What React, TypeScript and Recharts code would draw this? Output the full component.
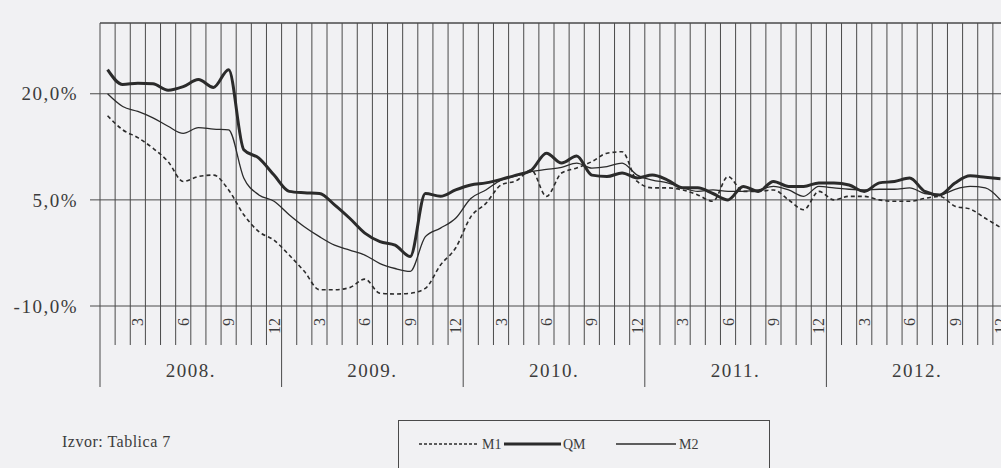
import { LineChart, Line, XAxis, YAxis, CartesianGrid, ReferenceLine } from "recharts";

// monthly growth rates, Jan 2008 – Dec 2012
const YEARS = ["2008.", "2009.", "2010.", "2011.", "2012."];
const MONTH_LABELS = ["", "", "3", "", "", "6", "", "", "9", "", "", "12"];

const QM = [
  23.4, 21.3, 21.5, 21.4, 20.5, 21.0, 22.0, 20.9, 23.4, 12.1, 10.9, 8.5,
  6.2, 6.0, 5.9, 4.3, 2.4, 0.3, -0.9, -1.4, -3.0, 5.9, 5.5, 6.4,
  7.1, 7.4, 7.9, 8.5, 9.2, 11.6, 10.2, 11.2, 8.5, 8.3, 8.8, 8.1,
  8.5, 7.8, 6.7, 6.7, 5.9, 5.0, 6.9, 6.2, 7.6, 6.9, 6.9, 7.4,
  7.4, 7.1, 6.2, 7.4, 7.6, 8.1, 6.2, 5.7, 7.4, 8.4, 8.2, 8.0,
];
const M2 = [
  20.0, 18.2, 17.5, 16.6, 15.4, 14.4, 15.2, 15.0, 14.9, 8.1, 5.7, 4.8,
  2.9, 1.2, -0.2, -1.4, -2.1, -2.8, -4.0, -4.7, -5.1, -0.2, 1.0, 2.4,
  5.2, 6.4, 7.8, 8.4, 9.0, 9.3, 9.6, 10.2, 9.5, 9.7, 10.2, 8.5,
  7.8, 7.4, 6.7, 6.2, 6.4, 6.2, 6.2, 6.4, 6.9, 6.4, 5.5, 6.9,
  6.7, 6.5, 6.4, 6.5, 6.5, 6.7, 5.9, 5.7, 6.5, 6.9, 6.7, 5.0,
];
const M1 = [
  16.9, 14.9, 13.8, 12.3, 10.4, 7.6, 8.3, 8.5, 6.4, 2.9, 0.5, -0.7,
  -2.8, -5.1, -7.7, -7.7, -7.4, -6.2, -8.2, -8.3, -8.2, -7.5, -4.2, -1.8,
  2.6, 4.5, 7.1, 7.7, 9.2, 5.5, 8.8, 9.5, 10.4, 11.6, 11.8, 7.6,
  6.7, 6.7, 6.4, 5.7, 4.8, 8.3, 6.2, 6.2, 6.4, 5.0, 3.6, 6.2,
  5.0, 5.5, 5.5, 5.0, 4.8, 4.8, 5.2, 5.5, 4.1, 3.7, 2.4, 1.1,
];
const Y_TICKS = [-10, 5, 20];

const W = 1030;
const H = 468;
const LEFT = 100;
const RIGHT_PAD = 22;
const MW = (W - LEFT - RIGHT_PAD) / QM.length;

const BG = "#f1f1f3";
const GRID = "#4a4a4a";
const INK = "#2b2b2b";
const TEXT = "#3c3c3c";
const FONT = "'Liberation Serif', 'DejaVu Serif', serif";

const data = QM.map((q, i) => ({ x: i + 0.5, qm: q, m1: M1[i], m2: M2[i] }));
const boundaries = Array.from({ length: QM.length + 1 }, (_, k) => k);

function MonthTick(props: any) {
  const { x, y, payload } = props;
  const k = payload.value as number;
  const m = k % 12;
  const last = k >= QM.length;
  const label = last ? "" : MONTH_LABELS[m];
  return (
    <g>
      <line x1={x} x2={x} y1={y} y2={y + (m === 0 ? 81 : 39)} stroke={GRID} strokeWidth={1} />
      {label && (
        <text
          transform={`translate(${x + MW / 2},${y + 12}) rotate(-90)`}
          textAnchor="end"
          dominantBaseline="central"
          fontSize={16}
          fontFamily={FONT}
          fill={TEXT}
        >
          {label}
        </text>
      )}
      {m === 6 && !last && (
        <text x={x} y={y + 71} textAnchor="middle" fontSize={19} letterSpacing={1.5} fontFamily={FONT} fill={TEXT}>
          {YEARS[Math.floor(k / 12)]}
        </text>
      )}
    </g>
  );
}

const fmt = (v: number) => v.toFixed(1).replace(".", ",") + "%";

export default function App() {
  return (
    <div style={{ position: "absolute", left: 0, top: 0, width: 1001, height: 468, overflow: "hidden", background: BG }}>
      <LineChart width={W} height={H} data={data} margin={{ top: 23, right: RIGHT_PAD, bottom: 0, left: 10 }}>
        <CartesianGrid stroke={GRID} strokeWidth={1} />
        <ReferenceLine y={30} stroke={GRID} strokeWidth={1} />
        <XAxis
          dataKey="x"
          type="number"
          domain={[0, QM.length]}
          ticks={boundaries}
          interval={0}
          height={162}
          axisLine={false}
          tickLine={false}
          tickSize={0}
          tickMargin={0}
          tick={<MonthTick />}
        />
        <YAxis
          type="number"
          domain={[-10, 30]}
          ticks={Y_TICKS}
          width={90}
          axisLine={false}
          tickLine={{ stroke: GRID }}
          tickSize={10}
          tickMargin={12}
          tickFormatter={fmt}
          tick={{ fill: TEXT, fontSize: 19, fontFamily: FONT, letterSpacing: 1.5 }}
        />
        <Line dataKey="m1" type="monotone" stroke={INK} strokeWidth={1.6} strokeDasharray="4 3" dot={false} activeDot={false} isAnimationActive={false} />
        <Line dataKey="m2" type="monotone" stroke={INK} strokeWidth={1.3} dot={false} activeDot={false} isAnimationActive={false} />
        <Line dataKey="qm" type="monotone" stroke={INK} strokeWidth={3} dot={false} activeDot={false} isAnimationActive={false} />
      </LineChart>
      <div style={{ position: "absolute", left: 62, top: 433, fontFamily: FONT, fontSize: 16, letterSpacing: 0.5, color: TEXT }}>
        Izvor: Tablica 7
      </div>
      <div
        style={{
          position: "absolute",
          left: 398,
          top: 420,
          width: 370,
          height: 60,
          border: `1px solid ${GRID}`,
        }}
      >
        <svg width={370} height={48} style={{ position: "absolute", left: 0, top: 0 }}>
          <line x1={20} x2={79} y1={23} y2={23} stroke={INK} strokeWidth={1.6} strokeDasharray="3 2" />
          <text x={83} y={28} fontSize={14} fontFamily={FONT} fill={TEXT}>M1</text>
          <line x1={105} x2={162} y1={23} y2={23} stroke={INK} strokeWidth={3} />
          <text x={164} y={28} fontSize={14} fontFamily={FONT} fill={TEXT}>QM</text>
          <line x1={217} x2={277} y1={23} y2={23} stroke={INK} strokeWidth={1.3} />
          <text x={280} y={28} fontSize={14} fontFamily={FONT} fill={TEXT}>M2</text>
        </svg>
      </div>
    </div>
  );
}
